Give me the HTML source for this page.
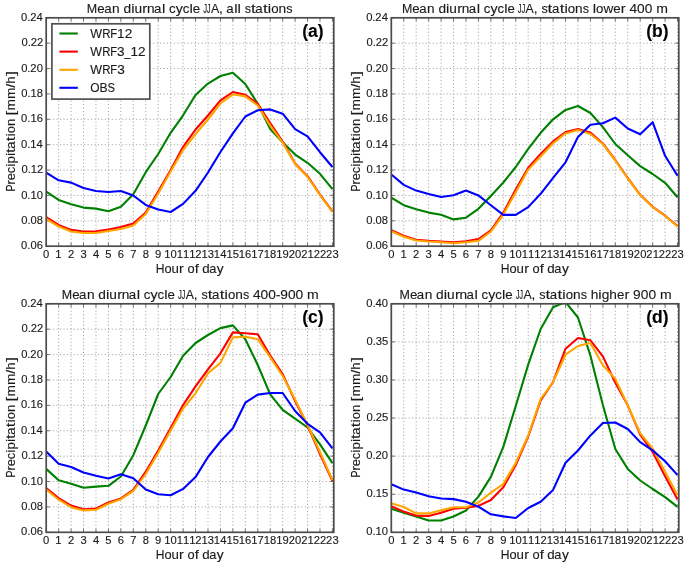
<!DOCTYPE html>
<html><head><meta charset="utf-8"><title>Mean diurnal cycle JJA</title>
<style>html,body{margin:0;padding:0;background:#fff;}svg{display:block;will-change:transform;}text{stroke:#1a1a1a;stroke-width:0.12px;}</style>
</head><body>
<svg width="685" height="563" viewBox="0 0 685 563" font-family='"Liberation Sans", sans-serif' fill="#1a1a1a">
<rect width="685" height="563" fill="#fff"/>
<clipPath id="clipa"><rect x="46.2" y="17.8" width="287.6" height="228.4"/></clipPath>
<path d="M58.65 17.8V246.2M71.09 17.8V246.2M83.53 17.8V246.2M95.98 17.8V246.2M108.43 17.8V246.2M120.87 17.8V246.2M133.31 17.8V246.2M145.76 17.8V246.2M158.2 17.8V246.2M170.65 17.8V246.2M183.1 17.8V246.2M195.54 17.8V246.2M207.99 17.8V246.2M220.43 17.8V246.2M232.88 17.8V246.2M245.32 17.8V246.2M257.76 17.8V246.2M270.21 17.8V246.2M282.66 17.8V246.2M295.1 17.8V246.2M307.55 17.8V246.2M319.99 17.8V246.2M332.44 17.8V246.2M46.2 220.82H333.8M46.2 195.44H333.8M46.2 170.07H333.8M46.2 144.69H333.8M46.2 119.31H333.8M46.2 93.93H333.8M46.2 68.56H333.8M46.2 43.18H333.8" stroke="#a2a2a2" stroke-width="1" stroke-dasharray="1.1 2.35" fill="none"/>
<path d="M46.2 246.2v-3.5M46.2 17.8v3.5M58.65 246.2v-3.5M58.65 17.8v3.5M71.09 246.2v-3.5M71.09 17.8v3.5M83.53 246.2v-3.5M83.53 17.8v3.5M95.98 246.2v-3.5M95.98 17.8v3.5M108.43 246.2v-3.5M108.43 17.8v3.5M120.87 246.2v-3.5M120.87 17.8v3.5M133.31 246.2v-3.5M133.31 17.8v3.5M145.76 246.2v-3.5M145.76 17.8v3.5M158.2 246.2v-3.5M158.2 17.8v3.5M170.65 246.2v-3.5M170.65 17.8v3.5M183.1 246.2v-3.5M183.1 17.8v3.5M195.54 246.2v-3.5M195.54 17.8v3.5M207.99 246.2v-3.5M207.99 17.8v3.5M220.43 246.2v-3.5M220.43 17.8v3.5M232.88 246.2v-3.5M232.88 17.8v3.5M245.32 246.2v-3.5M245.32 17.8v3.5M257.76 246.2v-3.5M257.76 17.8v3.5M270.21 246.2v-3.5M270.21 17.8v3.5M282.66 246.2v-3.5M282.66 17.8v3.5M295.1 246.2v-3.5M295.1 17.8v3.5M307.55 246.2v-3.5M307.55 17.8v3.5M319.99 246.2v-3.5M319.99 17.8v3.5M332.44 246.2v-3.5M332.44 17.8v3.5M46.2 246.2h3.5M333.8 246.2h-3.5M46.2 220.82h3.5M333.8 220.82h-3.5M46.2 195.44h3.5M333.8 195.44h-3.5M46.2 170.07h3.5M333.8 170.07h-3.5M46.2 144.69h3.5M333.8 144.69h-3.5M46.2 119.31h3.5M333.8 119.31h-3.5M46.2 93.93h3.5M333.8 93.93h-3.5M46.2 68.56h3.5M333.8 68.56h-3.5M46.2 43.18h3.5M333.8 43.18h-3.5M46.2 17.8h3.5M333.8 17.8h-3.5" stroke="#707070" stroke-width="1" fill="none"/>
<g clip-path="url(#clipa)"><polyline points="46.2,191.6 58.65,199.9 71.09,204.3 83.53,207.6 95.98,208.6 108.43,211.2 120.87,206.8 133.31,194.3 145.76,172.2 158.2,154 170.65,132.8 183.1,115.3 195.54,95 207.99,83.6 220.43,76 232.88,72.8 245.32,84 257.76,103.9 270.21,129 282.66,142.3 295.1,154.6 307.55,162.8 319.99,173.8 332.44,189.1" stroke="#008000" stroke-width="2.1" fill="none" stroke-linejoin="round"/><polyline points="46.2,217.2 58.65,225 71.09,229.9 83.53,231.5 95.98,231.3 108.43,229.6 120.87,227.1 133.31,223.6 145.76,212.5 158.2,191.6 170.65,170 183.1,146.8 195.54,129.5 207.99,115.5 220.43,100.3 232.88,92 245.32,94.8 257.76,103.9 270.21,123 282.66,141.5 295.1,163.5 307.55,176.2 319.99,194.6 332.44,211.4" stroke="#ff0000" stroke-width="2.1" fill="none" stroke-linejoin="round"/><polyline points="46.2,219 58.65,226.5 71.09,231.5 83.53,233 95.98,233 108.43,231 120.87,229 133.31,225.5 145.76,214 158.2,193.5 170.65,171.5 183.1,150 195.54,134 207.99,119.5 220.43,103.5 232.88,94.3 245.32,96.4 257.76,105.5 270.21,125.6 282.66,142.6 295.1,164 307.55,177 319.99,195 332.44,212" stroke="#ffa500" stroke-width="2.1" fill="none" stroke-linejoin="round"/><polyline points="46.2,172.7 58.65,180.3 71.09,182.6 83.53,188 95.98,191 108.43,192 120.87,191 133.31,195.5 145.76,204.9 158.2,209.5 170.65,212 183.1,203.9 195.54,190.8 207.99,172.5 220.43,152 232.88,133.3 245.32,116.5 257.76,110.3 270.21,109.4 282.66,113.7 295.1,129.2 307.55,136.4 319.99,152.2 332.44,167" stroke="#0000ff" stroke-width="2.1" fill="none" stroke-linejoin="round"/></g>
<rect x="46.2" y="17.8" width="287.6" height="228.4" fill="none" stroke="#4c4c4c" stroke-width="1.7"/>
<g font-size="12.77"><text transform="translate(86.82 12.95) scale(0.977 1)">M</text><text transform="translate(97.24 12.95) scale(1.044 1)">e</text><text transform="translate(104.16 12.95) scale(1.040 1)">a</text><text transform="translate(112.04 12.95) scale(1.075 1)">n</text><text transform="translate(123.42 12.95) scale(1.077 1)">d</text><text transform="translate(131.14 12.95) scale(1.180 1)">i</text><text transform="translate(134.45 12.95) scale(1.075 1)">u</text><text transform="translate(142.29 12.95) scale(1.165 1)">r</text><text transform="translate(146.88 12.95) scale(1.075 1)">n</text><text transform="translate(154.03 12.95) scale(1.040 1)">a</text><text transform="translate(161.88 12.95) scale(1.180 1)">l</text><text transform="translate(168.91 12.95) scale(1.038 1)">c</text><text transform="translate(175.68 12.95) scale(1.117 1)">y</text><text transform="translate(182.66 12.95) scale(1.038 1)">c</text><text transform="translate(189.44 12.95) scale(1.180 1)">l</text><text transform="translate(192.81 12.95) scale(1.044 1)">e</text><text transform="translate(203.21 12.95) scale(0.600 1)">J</text><text transform="translate(206.77 12.95) scale(0.600 1)">J</text><text transform="translate(210.92 12.95) scale(0.968 1)">A</text><text transform="translate(219.05 12.95) scale(1.080 1)">,</text><text transform="translate(226.36 12.95) scale(1.040 1)">a</text><text transform="translate(234.21 12.95) scale(1.180 1)">l</text><text transform="translate(237.56 12.95) scale(1.180 1)">l</text><text transform="translate(244.83 12.95) scale(0.983 1)">s</text><text transform="translate(250.97 12.95) scale(1.332 1)">t</text><text transform="translate(255.28 12.95) scale(1.040 1)">a</text><text transform="translate(263.08 12.95) scale(1.332 1)">t</text><text transform="translate(267.86 12.95) scale(1.180 1)">i</text><text transform="translate(271.2 12.95) scale(1.038 1)">o</text><text transform="translate(278.6 12.95) scale(1.075 1)">n</text><text transform="translate(286.29 12.95) scale(0.983 1)">s</text></g>
<g font-size="10.38"><text transform="translate(21.09 249.3) scale(1.080 1)">0</text><text transform="translate(27.33 249.3) scale(1.080 1)">.</text><text transform="translate(30.44 249.3) scale(1.080 1)">0</text><text transform="translate(36.68 249.3) scale(1.080 1)">6</text></g>
<g font-size="10.38"><text transform="translate(21.15 223.92) scale(1.080 1)">0</text><text transform="translate(27.38 223.92) scale(1.080 1)">.</text><text transform="translate(30.5 223.92) scale(1.080 1)">0</text><text transform="translate(36.73 223.92) scale(1.080 1)">8</text></g>
<g font-size="10.38"><text transform="translate(21.13 198.54) scale(1.080 1)">0</text><text transform="translate(27.36 198.54) scale(1.080 1)">.</text><text transform="translate(30.41 198.54) scale(1.080 1)">1</text><text transform="translate(36.71 198.54) scale(1.080 1)">0</text></g>
<g font-size="10.38"><text transform="translate(21.46 173.17) scale(1.080 1)">0</text><text transform="translate(27.69 173.17) scale(1.080 1)">.</text><text transform="translate(30.74 173.17) scale(1.080 1)">1</text><text transform="translate(36.91 173.17) scale(1.080 1)">2</text></g>
<g font-size="10.38"><text transform="translate(21.03 147.79) scale(1.080 1)">0</text><text transform="translate(27.26 147.79) scale(1.080 1)">.</text><text transform="translate(30.31 147.79) scale(1.080 1)">1</text><text transform="translate(36.61 147.79) scale(1.080 1)">4</text></g>
<g font-size="10.38"><text transform="translate(21.09 122.41) scale(1.080 1)">0</text><text transform="translate(27.33 122.41) scale(1.080 1)">.</text><text transform="translate(30.38 122.41) scale(1.080 1)">1</text><text transform="translate(36.68 122.41) scale(1.080 1)">6</text></g>
<g font-size="10.38"><text transform="translate(21.15 97.03) scale(1.080 1)">0</text><text transform="translate(27.38 97.03) scale(1.080 1)">.</text><text transform="translate(30.43 97.03) scale(1.080 1)">1</text><text transform="translate(36.73 97.03) scale(1.080 1)">8</text></g>
<g font-size="10.38"><text transform="translate(21.13 71.66) scale(1.080 1)">0</text><text transform="translate(27.36 71.66) scale(1.080 1)">.</text><text transform="translate(30.35 71.66) scale(1.080 1)">2</text><text transform="translate(36.71 71.66) scale(1.080 1)">0</text></g>
<g font-size="10.38"><text transform="translate(21.46 46.28) scale(1.080 1)">0</text><text transform="translate(27.69 46.28) scale(1.080 1)">.</text><text transform="translate(30.68 46.28) scale(1.080 1)">2</text><text transform="translate(36.91 46.28) scale(1.080 1)">2</text></g>
<g font-size="10.38"><text transform="translate(21.03 20.9) scale(1.080 1)">0</text><text transform="translate(27.26 20.9) scale(1.080 1)">.</text><text transform="translate(30.25 20.9) scale(1.080 1)">2</text><text transform="translate(36.61 20.9) scale(1.080 1)">4</text></g>
<g font-size="10.38"><text transform="translate(43.08 257.9) scale(1.080 1)">0</text></g>
<g font-size="10.38"><text transform="translate(55.37 257.9) scale(1.080 1)">1</text></g>
<g font-size="10.38"><text transform="translate(67.97 257.9) scale(1.080 1)">2</text></g>
<g font-size="10.38"><text transform="translate(80.45 257.9) scale(1.080 1)">3</text></g>
<g font-size="10.38"><text transform="translate(92.9 257.9) scale(1.080 1)">4</text></g>
<g font-size="10.38"><text transform="translate(105.32 257.9) scale(1.080 1)">5</text></g>
<g font-size="10.38"><text transform="translate(117.71 257.9) scale(1.080 1)">6</text></g>
<g font-size="10.38"><text transform="translate(130.19 257.9) scale(1.080 1)">7</text></g>
<g font-size="10.38"><text transform="translate(142.64 257.9) scale(1.080 1)">8</text></g>
<g font-size="10.38"><text transform="translate(155.09 257.9) scale(1.080 1)">9</text></g>
<g font-size="10.38"><text transform="translate(164.13 257.9) scale(1.080 1)">1</text><text transform="translate(170.43 257.9) scale(1.080 1)">0</text></g>
<g font-size="10.38"><text transform="translate(176.71 257.9) scale(1.080 1)">1</text><text transform="translate(182.94 257.9) scale(1.080 1)">1</text></g>
<g font-size="10.38"><text transform="translate(189.19 257.9) scale(1.080 1)">1</text><text transform="translate(195.36 257.9) scale(1.080 1)">2</text></g>
<g font-size="10.38"><text transform="translate(201.54 257.9) scale(1.080 1)">1</text><text transform="translate(207.85 257.9) scale(1.080 1)">3</text></g>
<g font-size="10.38"><text transform="translate(213.86 257.9) scale(1.080 1)">1</text><text transform="translate(220.17 257.9) scale(1.080 1)">4</text></g>
<g font-size="10.38"><text transform="translate(226.46 257.9) scale(1.080 1)">1</text><text transform="translate(232.73 257.9) scale(1.080 1)">5</text></g>
<g font-size="10.38"><text transform="translate(238.79 257.9) scale(1.080 1)">1</text><text transform="translate(245.09 257.9) scale(1.080 1)">6</text></g>
<g font-size="10.38"><text transform="translate(251.34 257.9) scale(1.080 1)">1</text><text transform="translate(257.62 257.9) scale(1.080 1)">7</text></g>
<g font-size="10.38"><text transform="translate(263.7 257.9) scale(1.080 1)">1</text><text transform="translate(270 257.9) scale(1.080 1)">8</text></g>
<g font-size="10.38"><text transform="translate(276.16 257.9) scale(1.080 1)">1</text><text transform="translate(282.43 257.9) scale(1.080 1)">9</text></g>
<g font-size="10.38"><text transform="translate(288.7 257.9) scale(1.080 1)">2</text><text transform="translate(295.06 257.9) scale(1.080 1)">0</text></g>
<g font-size="10.38"><text transform="translate(301.27 257.9) scale(1.080 1)">2</text><text transform="translate(307.57 257.9) scale(1.080 1)">1</text></g>
<g font-size="10.38"><text transform="translate(313.75 257.9) scale(1.080 1)">2</text><text transform="translate(319.99 257.9) scale(1.080 1)">2</text></g>
<g font-size="10.38"><text transform="translate(326.1 257.9) scale(1.080 1)">2</text><text transform="translate(332.48 257.9) scale(1.080 1)">3</text></g>
<g font-size="12.34"><text transform="translate(155.65 272.5) scale(0.983 1)">H</text><text transform="translate(164.42 272.5) scale(1.038 1)">o</text><text transform="translate(171.51 272.5) scale(1.075 1)">u</text><text transform="translate(179.09 272.5) scale(1.165 1)">r</text><text transform="translate(187.41 272.5) scale(1.038 1)">o</text><text transform="translate(194.66 272.5) scale(1.196 1)">f</text><text transform="translate(202.27 272.5) scale(1.077 1)">d</text><text transform="translate(209.27 272.5) scale(1.040 1)">a</text><text transform="translate(216.85 272.5) scale(1.117 1)">y</text></g>
<g transform="translate(15.05 131.7) rotate(-90)"><g font-size="12.38"><text transform="translate(-59.83 0) scale(0.853 1)">P</text><text transform="translate(-53.04 0) scale(1.165 1)">r</text><text transform="translate(-48.64 0) scale(1.044 1)">e</text><text transform="translate(-41.62 0) scale(1.038 1)">c</text><text transform="translate(-35.04 0) scale(1.180 1)">i</text><text transform="translate(-31.74 0) scale(1.077 1)">p</text><text transform="translate(-24.38 0) scale(1.180 1)">i</text><text transform="translate(-21.19 0) scale(1.332 1)">t</text><text transform="translate(-17.02 0) scale(1.040 1)">a</text><text transform="translate(-9.45 0) scale(1.332 1)">t</text><text transform="translate(-4.82 0) scale(1.180 1)">i</text><text transform="translate(-1.57 0) scale(1.038 1)">o</text><text transform="translate(5.59 0) scale(1.075 1)">n</text><text transform="translate(16.1 0) scale(1.325 1)">[</text><text transform="translate(21.28 0) scale(1.104 1)">m</text><text transform="translate(32.66 0) scale(1.104 1)">m</text><text transform="translate(44.01 0) scale(1.144 1)">/</text><text transform="translate(47.95 0) scale(1.075 1)">h</text><text transform="translate(55.93 0) scale(1.325 1)">]</text></g></g>
<text x="323.6" y="37.4" font-size="17.5" font-weight="bold" text-anchor="end" fill="#000" style="stroke-width:0.1px">(a)</text>
<clipPath id="clipb"><rect x="391.3" y="17.8" width="287.5" height="228.4"/></clipPath>
<path d="M403.75 17.8V246.2M416.19 17.8V246.2M428.63 17.8V246.2M441.08 17.8V246.2M453.53 17.8V246.2M465.97 17.8V246.2M478.42 17.8V246.2M490.86 17.8V246.2M503.31 17.8V246.2M515.75 17.8V246.2M528.2 17.8V246.2M540.64 17.8V246.2M553.09 17.8V246.2M565.53 17.8V246.2M577.98 17.8V246.2M590.42 17.8V246.2M602.87 17.8V246.2M615.31 17.8V246.2M627.75 17.8V246.2M640.2 17.8V246.2M652.64 17.8V246.2M665.09 17.8V246.2M677.54 17.8V246.2M391.3 220.82H678.8M391.3 195.44H678.8M391.3 170.07H678.8M391.3 144.69H678.8M391.3 119.31H678.8M391.3 93.93H678.8M391.3 68.56H678.8M391.3 43.18H678.8" stroke="#a2a2a2" stroke-width="1" stroke-dasharray="1.1 2.35" fill="none"/>
<path d="M391.3 246.2v-3.5M391.3 17.8v3.5M403.75 246.2v-3.5M403.75 17.8v3.5M416.19 246.2v-3.5M416.19 17.8v3.5M428.63 246.2v-3.5M428.63 17.8v3.5M441.08 246.2v-3.5M441.08 17.8v3.5M453.53 246.2v-3.5M453.53 17.8v3.5M465.97 246.2v-3.5M465.97 17.8v3.5M478.42 246.2v-3.5M478.42 17.8v3.5M490.86 246.2v-3.5M490.86 17.8v3.5M503.31 246.2v-3.5M503.31 17.8v3.5M515.75 246.2v-3.5M515.75 17.8v3.5M528.2 246.2v-3.5M528.2 17.8v3.5M540.64 246.2v-3.5M540.64 17.8v3.5M553.09 246.2v-3.5M553.09 17.8v3.5M565.53 246.2v-3.5M565.53 17.8v3.5M577.98 246.2v-3.5M577.98 17.8v3.5M590.42 246.2v-3.5M590.42 17.8v3.5M602.87 246.2v-3.5M602.87 17.8v3.5M615.31 246.2v-3.5M615.31 17.8v3.5M627.75 246.2v-3.5M627.75 17.8v3.5M640.2 246.2v-3.5M640.2 17.8v3.5M652.64 246.2v-3.5M652.64 17.8v3.5M665.09 246.2v-3.5M665.09 17.8v3.5M677.54 246.2v-3.5M677.54 17.8v3.5M391.3 246.2h3.5M678.8 246.2h-3.5M391.3 220.82h3.5M678.8 220.82h-3.5M391.3 195.44h3.5M678.8 195.44h-3.5M391.3 170.07h3.5M678.8 170.07h-3.5M391.3 144.69h3.5M678.8 144.69h-3.5M391.3 119.31h3.5M678.8 119.31h-3.5M391.3 93.93h3.5M678.8 93.93h-3.5M391.3 68.56h3.5M678.8 68.56h-3.5M391.3 43.18h3.5M678.8 43.18h-3.5M391.3 17.8h3.5M678.8 17.8h-3.5" stroke="#707070" stroke-width="1" fill="none"/>
<g clip-path="url(#clipb)"><polyline points="391.3,197.7 403.75,205.2 416.19,209.3 428.63,212.6 441.08,214.8 453.53,219.4 465.97,217.7 478.42,208.8 490.86,195.9 503.31,182.5 515.75,167 528.2,148.8 540.64,132.8 553.09,119.3 565.53,109.9 577.98,106 590.42,113 602.87,127.1 615.31,144 627.75,155.3 640.2,166.1 652.64,174 665.09,182.8 677.54,197.2" stroke="#008000" stroke-width="2.1" fill="none" stroke-linejoin="round"/><polyline points="391.3,230.1 403.75,235.7 416.19,239.7 428.63,240.8 441.08,241.5 453.53,242.2 465.97,241.4 478.42,239 490.86,230.4 503.31,212.7 515.75,189.4 528.2,167.7 540.64,154 553.09,141.4 565.53,132 577.98,129.1 590.42,132.6 602.87,143.5 615.31,160 627.75,178 640.2,194.8 652.64,206.8 665.09,215.7 677.54,226" stroke="#ff0000" stroke-width="2.1" fill="none" stroke-linejoin="round"/><polyline points="391.3,231.3 403.75,236.8 416.19,240.5 428.63,241.5 441.08,242.2 453.53,243.2 465.97,242.2 478.42,240.8 490.86,231.7 503.31,214.6 515.75,192.2 528.2,169.6 540.64,156.5 553.09,143.2 565.53,133.4 577.98,130 590.42,134 602.87,144 615.31,160.5 627.75,178.5 640.2,195 652.64,207 665.09,216 677.54,226.5" stroke="#ffa500" stroke-width="2.1" fill="none" stroke-linejoin="round"/><polyline points="391.3,174.5 403.75,184.9 416.19,190.6 428.63,194.1 441.08,197 453.53,195.3 465.97,190.5 478.42,195.4 490.86,205.2 503.31,214.9 515.75,214.9 528.2,207.1 540.64,193.8 553.09,177.9 565.53,162.3 577.98,136.9 590.42,124.8 602.87,123.2 615.31,117.6 627.75,128.5 640.2,134.2 652.64,122.2 665.09,155.8 677.54,175.7" stroke="#0000ff" stroke-width="2.1" fill="none" stroke-linejoin="round"/></g>
<rect x="391.3" y="17.8" width="287.5" height="228.4" fill="none" stroke="#4c4c4c" stroke-width="1.7"/>
<g font-size="12.72"><text transform="translate(401.92 12.95) scale(0.977 1)">M</text><text transform="translate(412.3 12.95) scale(1.044 1)">e</text><text transform="translate(419.2 12.95) scale(1.040 1)">a</text><text transform="translate(427.04 12.95) scale(1.075 1)">n</text><text transform="translate(438.38 12.95) scale(1.077 1)">d</text><text transform="translate(446.07 12.95) scale(1.180 1)">i</text><text transform="translate(449.37 12.95) scale(1.075 1)">u</text><text transform="translate(457.18 12.95) scale(1.165 1)">r</text><text transform="translate(461.75 12.95) scale(1.075 1)">n</text><text transform="translate(468.87 12.95) scale(1.040 1)">a</text><text transform="translate(476.69 12.95) scale(1.180 1)">l</text><text transform="translate(483.69 12.95) scale(1.038 1)">c</text><text transform="translate(490.44 12.95) scale(1.117 1)">y</text><text transform="translate(497.4 12.95) scale(1.038 1)">c</text><text transform="translate(504.14 12.95) scale(1.180 1)">l</text><text transform="translate(507.5 12.95) scale(1.044 1)">e</text><text transform="translate(517.87 12.95) scale(0.600 1)">J</text><text transform="translate(521.41 12.95) scale(0.600 1)">J</text><text transform="translate(525.55 12.95) scale(0.968 1)">A</text><text transform="translate(533.64 12.95) scale(1.080 1)">,</text><text transform="translate(541.48 12.95) scale(0.983 1)">s</text><text transform="translate(547.6 12.95) scale(1.332 1)">t</text><text transform="translate(551.89 12.95) scale(1.040 1)">a</text><text transform="translate(559.66 12.95) scale(1.332 1)">t</text><text transform="translate(564.42 12.95) scale(1.180 1)">i</text><text transform="translate(567.75 12.95) scale(1.038 1)">o</text><text transform="translate(575.12 12.95) scale(1.075 1)">n</text><text transform="translate(582.78 12.95) scale(0.983 1)">s</text><text transform="translate(592.77 12.95) scale(1.180 1)">l</text><text transform="translate(596.11 12.95) scale(1.038 1)">o</text><text transform="translate(603.44 12.95) scale(1.069 1)">w</text><text transform="translate(613.29 12.95) scale(1.044 1)">e</text><text transform="translate(620.83 12.95) scale(1.165 1)">r</text><text transform="translate(629.4 12.95) scale(1.080 1)">4</text><text transform="translate(637.03 12.95) scale(1.080 1)">0</text><text transform="translate(644.67 12.95) scale(1.080 1)">0</text><text transform="translate(656.16 12.95) scale(1.104 1)">m</text></g>
<g font-size="10.38"><text transform="translate(366.19 249.3) scale(1.080 1)">0</text><text transform="translate(372.43 249.3) scale(1.080 1)">.</text><text transform="translate(375.54 249.3) scale(1.080 1)">0</text><text transform="translate(381.78 249.3) scale(1.080 1)">6</text></g>
<g font-size="10.38"><text transform="translate(366.25 223.92) scale(1.080 1)">0</text><text transform="translate(372.48 223.92) scale(1.080 1)">.</text><text transform="translate(375.6 223.92) scale(1.080 1)">0</text><text transform="translate(381.83 223.92) scale(1.080 1)">8</text></g>
<g font-size="10.38"><text transform="translate(366.23 198.54) scale(1.080 1)">0</text><text transform="translate(372.46 198.54) scale(1.080 1)">.</text><text transform="translate(375.51 198.54) scale(1.080 1)">1</text><text transform="translate(381.81 198.54) scale(1.080 1)">0</text></g>
<g font-size="10.38"><text transform="translate(366.56 173.17) scale(1.080 1)">0</text><text transform="translate(372.79 173.17) scale(1.080 1)">.</text><text transform="translate(375.84 173.17) scale(1.080 1)">1</text><text transform="translate(382.01 173.17) scale(1.080 1)">2</text></g>
<g font-size="10.38"><text transform="translate(366.13 147.79) scale(1.080 1)">0</text><text transform="translate(372.36 147.79) scale(1.080 1)">.</text><text transform="translate(375.41 147.79) scale(1.080 1)">1</text><text transform="translate(381.71 147.79) scale(1.080 1)">4</text></g>
<g font-size="10.38"><text transform="translate(366.19 122.41) scale(1.080 1)">0</text><text transform="translate(372.43 122.41) scale(1.080 1)">.</text><text transform="translate(375.48 122.41) scale(1.080 1)">1</text><text transform="translate(381.78 122.41) scale(1.080 1)">6</text></g>
<g font-size="10.38"><text transform="translate(366.25 97.03) scale(1.080 1)">0</text><text transform="translate(372.48 97.03) scale(1.080 1)">.</text><text transform="translate(375.53 97.03) scale(1.080 1)">1</text><text transform="translate(381.83 97.03) scale(1.080 1)">8</text></g>
<g font-size="10.38"><text transform="translate(366.23 71.66) scale(1.080 1)">0</text><text transform="translate(372.46 71.66) scale(1.080 1)">.</text><text transform="translate(375.45 71.66) scale(1.080 1)">2</text><text transform="translate(381.81 71.66) scale(1.080 1)">0</text></g>
<g font-size="10.38"><text transform="translate(366.56 46.28) scale(1.080 1)">0</text><text transform="translate(372.79 46.28) scale(1.080 1)">.</text><text transform="translate(375.78 46.28) scale(1.080 1)">2</text><text transform="translate(382.01 46.28) scale(1.080 1)">2</text></g>
<g font-size="10.38"><text transform="translate(366.13 20.9) scale(1.080 1)">0</text><text transform="translate(372.36 20.9) scale(1.080 1)">.</text><text transform="translate(375.35 20.9) scale(1.080 1)">2</text><text transform="translate(381.71 20.9) scale(1.080 1)">4</text></g>
<g font-size="10.38"><text transform="translate(388.18 257.9) scale(1.080 1)">0</text></g>
<g font-size="10.38"><text transform="translate(400.47 257.9) scale(1.080 1)">1</text></g>
<g font-size="10.38"><text transform="translate(413.07 257.9) scale(1.080 1)">2</text></g>
<g font-size="10.38"><text transform="translate(425.55 257.9) scale(1.080 1)">3</text></g>
<g font-size="10.38"><text transform="translate(438 257.9) scale(1.080 1)">4</text></g>
<g font-size="10.38"><text transform="translate(450.42 257.9) scale(1.080 1)">5</text></g>
<g font-size="10.38"><text transform="translate(462.81 257.9) scale(1.080 1)">6</text></g>
<g font-size="10.38"><text transform="translate(475.29 257.9) scale(1.080 1)">7</text></g>
<g font-size="10.38"><text transform="translate(487.74 257.9) scale(1.080 1)">8</text></g>
<g font-size="10.38"><text transform="translate(500.19 257.9) scale(1.080 1)">9</text></g>
<g font-size="10.38"><text transform="translate(509.23 257.9) scale(1.080 1)">1</text><text transform="translate(515.53 257.9) scale(1.080 1)">0</text></g>
<g font-size="10.38"><text transform="translate(521.81 257.9) scale(1.080 1)">1</text><text transform="translate(528.04 257.9) scale(1.080 1)">1</text></g>
<g font-size="10.38"><text transform="translate(534.29 257.9) scale(1.080 1)">1</text><text transform="translate(540.46 257.9) scale(1.080 1)">2</text></g>
<g font-size="10.38"><text transform="translate(546.64 257.9) scale(1.080 1)">1</text><text transform="translate(552.95 257.9) scale(1.080 1)">3</text></g>
<g font-size="10.38"><text transform="translate(558.96 257.9) scale(1.080 1)">1</text><text transform="translate(565.27 257.9) scale(1.080 1)">4</text></g>
<g font-size="10.38"><text transform="translate(571.56 257.9) scale(1.080 1)">1</text><text transform="translate(577.83 257.9) scale(1.080 1)">5</text></g>
<g font-size="10.38"><text transform="translate(583.89 257.9) scale(1.080 1)">1</text><text transform="translate(590.19 257.9) scale(1.080 1)">6</text></g>
<g font-size="10.38"><text transform="translate(596.44 257.9) scale(1.080 1)">1</text><text transform="translate(602.72 257.9) scale(1.080 1)">7</text></g>
<g font-size="10.38"><text transform="translate(608.8 257.9) scale(1.080 1)">1</text><text transform="translate(615.1 257.9) scale(1.080 1)">8</text></g>
<g font-size="10.38"><text transform="translate(621.26 257.9) scale(1.080 1)">1</text><text transform="translate(627.53 257.9) scale(1.080 1)">9</text></g>
<g font-size="10.38"><text transform="translate(633.8 257.9) scale(1.080 1)">2</text><text transform="translate(640.16 257.9) scale(1.080 1)">0</text></g>
<g font-size="10.38"><text transform="translate(646.37 257.9) scale(1.080 1)">2</text><text transform="translate(652.67 257.9) scale(1.080 1)">1</text></g>
<g font-size="10.38"><text transform="translate(658.85 257.9) scale(1.080 1)">2</text><text transform="translate(665.09 257.9) scale(1.080 1)">2</text></g>
<g font-size="10.38"><text transform="translate(671.2 257.9) scale(1.080 1)">2</text><text transform="translate(677.58 257.9) scale(1.080 1)">3</text></g>
<g font-size="12.34"><text transform="translate(500.7 272.5) scale(0.983 1)">H</text><text transform="translate(509.47 272.5) scale(1.038 1)">o</text><text transform="translate(516.56 272.5) scale(1.075 1)">u</text><text transform="translate(524.14 272.5) scale(1.165 1)">r</text><text transform="translate(532.46 272.5) scale(1.038 1)">o</text><text transform="translate(539.71 272.5) scale(1.196 1)">f</text><text transform="translate(547.32 272.5) scale(1.077 1)">d</text><text transform="translate(554.32 272.5) scale(1.040 1)">a</text><text transform="translate(561.9 272.5) scale(1.117 1)">y</text></g>
<g transform="translate(360.15 131.7) rotate(-90)"><g font-size="12.38"><text transform="translate(-59.83 0) scale(0.853 1)">P</text><text transform="translate(-53.04 0) scale(1.165 1)">r</text><text transform="translate(-48.64 0) scale(1.044 1)">e</text><text transform="translate(-41.62 0) scale(1.038 1)">c</text><text transform="translate(-35.04 0) scale(1.180 1)">i</text><text transform="translate(-31.74 0) scale(1.077 1)">p</text><text transform="translate(-24.38 0) scale(1.180 1)">i</text><text transform="translate(-21.19 0) scale(1.332 1)">t</text><text transform="translate(-17.02 0) scale(1.040 1)">a</text><text transform="translate(-9.45 0) scale(1.332 1)">t</text><text transform="translate(-4.82 0) scale(1.180 1)">i</text><text transform="translate(-1.57 0) scale(1.038 1)">o</text><text transform="translate(5.59 0) scale(1.075 1)">n</text><text transform="translate(16.1 0) scale(1.325 1)">[</text><text transform="translate(21.28 0) scale(1.104 1)">m</text><text transform="translate(32.66 0) scale(1.104 1)">m</text><text transform="translate(44.01 0) scale(1.144 1)">/</text><text transform="translate(47.95 0) scale(1.075 1)">h</text><text transform="translate(55.93 0) scale(1.325 1)">]</text></g></g>
<text x="668.6" y="37.4" font-size="17.5" font-weight="bold" text-anchor="end" fill="#000" style="stroke-width:0.1px">(b)</text>
<clipPath id="clipc"><rect x="46.2" y="303.8" width="287.6" height="228.5"/></clipPath>
<path d="M58.65 303.8V532.3M71.09 303.8V532.3M83.53 303.8V532.3M95.98 303.8V532.3M108.43 303.8V532.3M120.87 303.8V532.3M133.31 303.8V532.3M145.76 303.8V532.3M158.2 303.8V532.3M170.65 303.8V532.3M183.1 303.8V532.3M195.54 303.8V532.3M207.99 303.8V532.3M220.43 303.8V532.3M232.88 303.8V532.3M245.32 303.8V532.3M257.76 303.8V532.3M270.21 303.8V532.3M282.66 303.8V532.3M295.1 303.8V532.3M307.55 303.8V532.3M319.99 303.8V532.3M332.44 303.8V532.3M46.2 506.91H333.8M46.2 481.52H333.8M46.2 456.13H333.8M46.2 430.74H333.8M46.2 405.36H333.8M46.2 379.97H333.8M46.2 354.58H333.8M46.2 329.19H333.8" stroke="#a2a2a2" stroke-width="1" stroke-dasharray="1.1 2.35" fill="none"/>
<path d="M46.2 532.3v-3.5M46.2 303.8v3.5M58.65 532.3v-3.5M58.65 303.8v3.5M71.09 532.3v-3.5M71.09 303.8v3.5M83.53 532.3v-3.5M83.53 303.8v3.5M95.98 532.3v-3.5M95.98 303.8v3.5M108.43 532.3v-3.5M108.43 303.8v3.5M120.87 532.3v-3.5M120.87 303.8v3.5M133.31 532.3v-3.5M133.31 303.8v3.5M145.76 532.3v-3.5M145.76 303.8v3.5M158.2 532.3v-3.5M158.2 303.8v3.5M170.65 532.3v-3.5M170.65 303.8v3.5M183.1 532.3v-3.5M183.1 303.8v3.5M195.54 532.3v-3.5M195.54 303.8v3.5M207.99 532.3v-3.5M207.99 303.8v3.5M220.43 532.3v-3.5M220.43 303.8v3.5M232.88 532.3v-3.5M232.88 303.8v3.5M245.32 532.3v-3.5M245.32 303.8v3.5M257.76 532.3v-3.5M257.76 303.8v3.5M270.21 532.3v-3.5M270.21 303.8v3.5M282.66 532.3v-3.5M282.66 303.8v3.5M295.1 532.3v-3.5M295.1 303.8v3.5M307.55 532.3v-3.5M307.55 303.8v3.5M319.99 532.3v-3.5M319.99 303.8v3.5M332.44 532.3v-3.5M332.44 303.8v3.5M46.2 532.3h3.5M333.8 532.3h-3.5M46.2 506.91h3.5M333.8 506.91h-3.5M46.2 481.52h3.5M333.8 481.52h-3.5M46.2 456.13h3.5M333.8 456.13h-3.5M46.2 430.74h3.5M333.8 430.74h-3.5M46.2 405.36h3.5M333.8 405.36h-3.5M46.2 379.97h3.5M333.8 379.97h-3.5M46.2 354.58h3.5M333.8 354.58h-3.5M46.2 329.19h3.5M333.8 329.19h-3.5M46.2 303.8h3.5M333.8 303.8h-3.5" stroke="#707070" stroke-width="1" fill="none"/>
<g clip-path="url(#clipc)"><polyline points="46.2,468.9 58.65,480.2 71.09,483.7 83.53,487.7 95.98,486.6 108.43,485.8 120.87,476.5 133.31,455.2 145.76,425.5 158.2,394 170.65,377 183.1,355.7 195.54,343 207.99,335 220.43,328.1 232.88,325.4 245.32,339.3 257.76,365 270.21,394.3 282.66,409.8 295.1,418.7 307.55,427.5 319.99,444.3 332.44,463.1" stroke="#008000" stroke-width="2.1" fill="none" stroke-linejoin="round"/><polyline points="46.2,488 58.65,498.1 71.09,505.6 83.53,509.3 95.98,508.5 108.43,502.4 120.87,498.4 133.31,489.9 145.76,471.7 158.2,450.5 170.65,428 183.1,405 195.54,386.3 207.99,369.3 220.43,353.3 232.88,332.4 245.32,333.3 257.76,334.2 270.21,355.5 282.66,374.2 295.1,401 307.55,425.5 319.99,454 332.44,481" stroke="#ff0000" stroke-width="2.1" fill="none" stroke-linejoin="round"/><polyline points="46.2,489.6 58.65,499.7 71.09,507.2 83.53,510.4 95.98,509.8 108.43,503.7 120.87,499.2 133.31,491 145.76,474 158.2,452.7 170.65,430.6 183.1,408.5 195.54,393.3 207.99,373.3 220.43,362.9 232.88,337.4 245.32,336.8 257.76,339.2 270.21,357.3 282.66,376 295.1,399.5 307.55,425 319.99,452 332.44,480" stroke="#ffa500" stroke-width="2.1" fill="none" stroke-linejoin="round"/><polyline points="46.2,451.5 58.65,463.8 71.09,467 83.53,472.5 95.98,475.7 108.43,478.5 120.87,474.2 133.31,478.2 145.76,489.5 158.2,494.2 170.65,495.2 183.1,488.9 195.54,477.1 207.99,457 220.43,441.5 232.88,428.2 245.32,402.7 257.76,394.6 270.21,393 282.66,393 295.1,411 307.55,423.8 319.99,432.4 332.44,448.4" stroke="#0000ff" stroke-width="2.1" fill="none" stroke-linejoin="round"/></g>
<rect x="46.2" y="303.8" width="287.6" height="228.5" fill="none" stroke="#4c4c4c" stroke-width="1.7"/>
<g font-size="12.74"><text transform="translate(61.82 298.95) scale(0.977 1)">M</text><text transform="translate(72.22 298.95) scale(1.044 1)">e</text><text transform="translate(79.12 298.95) scale(1.040 1)">a</text><text transform="translate(86.98 298.95) scale(1.075 1)">n</text><text transform="translate(98.34 298.95) scale(1.077 1)">d</text><text transform="translate(106.03 298.95) scale(1.180 1)">i</text><text transform="translate(109.34 298.95) scale(1.075 1)">u</text><text transform="translate(117.16 298.95) scale(1.165 1)">r</text><text transform="translate(121.74 298.95) scale(1.075 1)">n</text><text transform="translate(128.87 298.95) scale(1.040 1)">a</text><text transform="translate(136.7 298.95) scale(1.180 1)">l</text><text transform="translate(143.72 298.95) scale(1.038 1)">c</text><text transform="translate(150.47 298.95) scale(1.117 1)">y</text><text transform="translate(157.44 298.95) scale(1.038 1)">c</text><text transform="translate(164.2 298.95) scale(1.180 1)">l</text><text transform="translate(167.56 298.95) scale(1.044 1)">e</text><text transform="translate(177.94 298.95) scale(0.600 1)">J</text><text transform="translate(181.49 298.95) scale(0.600 1)">J</text><text transform="translate(185.63 298.95) scale(0.968 1)">A</text><text transform="translate(193.74 298.95) scale(1.080 1)">,</text><text transform="translate(201.59 298.95) scale(0.983 1)">s</text><text transform="translate(207.72 298.95) scale(1.332 1)">t</text><text transform="translate(212.01 298.95) scale(1.040 1)">a</text><text transform="translate(219.8 298.95) scale(1.332 1)">t</text><text transform="translate(224.57 298.95) scale(1.180 1)">i</text><text transform="translate(227.9 298.95) scale(1.038 1)">o</text><text transform="translate(235.28 298.95) scale(1.075 1)">n</text><text transform="translate(242.96 298.95) scale(0.983 1)">s</text><text transform="translate(252.96 298.95) scale(1.080 1)">4</text><text transform="translate(260.61 298.95) scale(1.080 1)">0</text><text transform="translate(268.25 298.95) scale(1.080 1)">0</text><text transform="translate(275.91 298.95) scale(1.023 1)">-</text><text transform="translate(280.2 298.95) scale(1.080 1)">9</text><text transform="translate(287.89 298.95) scale(1.080 1)">0</text><text transform="translate(295.54 298.95) scale(1.080 1)">0</text><text transform="translate(307.04 298.95) scale(1.104 1)">m</text></g>
<g font-size="10.38"><text transform="translate(21.09 535.4) scale(1.080 1)">0</text><text transform="translate(27.33 535.4) scale(1.080 1)">.</text><text transform="translate(30.44 535.4) scale(1.080 1)">0</text><text transform="translate(36.68 535.4) scale(1.080 1)">6</text></g>
<g font-size="10.38"><text transform="translate(21.15 510.01) scale(1.080 1)">0</text><text transform="translate(27.38 510.01) scale(1.080 1)">.</text><text transform="translate(30.5 510.01) scale(1.080 1)">0</text><text transform="translate(36.73 510.01) scale(1.080 1)">8</text></g>
<g font-size="10.38"><text transform="translate(21.13 484.62) scale(1.080 1)">0</text><text transform="translate(27.36 484.62) scale(1.080 1)">.</text><text transform="translate(30.41 484.62) scale(1.080 1)">1</text><text transform="translate(36.71 484.62) scale(1.080 1)">0</text></g>
<g font-size="10.38"><text transform="translate(21.46 459.23) scale(1.080 1)">0</text><text transform="translate(27.69 459.23) scale(1.080 1)">.</text><text transform="translate(30.74 459.23) scale(1.080 1)">1</text><text transform="translate(36.91 459.23) scale(1.080 1)">2</text></g>
<g font-size="10.38"><text transform="translate(21.03 433.84) scale(1.080 1)">0</text><text transform="translate(27.26 433.84) scale(1.080 1)">.</text><text transform="translate(30.31 433.84) scale(1.080 1)">1</text><text transform="translate(36.61 433.84) scale(1.080 1)">4</text></g>
<g font-size="10.38"><text transform="translate(21.09 408.46) scale(1.080 1)">0</text><text transform="translate(27.33 408.46) scale(1.080 1)">.</text><text transform="translate(30.38 408.46) scale(1.080 1)">1</text><text transform="translate(36.68 408.46) scale(1.080 1)">6</text></g>
<g font-size="10.38"><text transform="translate(21.15 383.07) scale(1.080 1)">0</text><text transform="translate(27.38 383.07) scale(1.080 1)">.</text><text transform="translate(30.43 383.07) scale(1.080 1)">1</text><text transform="translate(36.73 383.07) scale(1.080 1)">8</text></g>
<g font-size="10.38"><text transform="translate(21.13 357.68) scale(1.080 1)">0</text><text transform="translate(27.36 357.68) scale(1.080 1)">.</text><text transform="translate(30.35 357.68) scale(1.080 1)">2</text><text transform="translate(36.71 357.68) scale(1.080 1)">0</text></g>
<g font-size="10.38"><text transform="translate(21.46 332.29) scale(1.080 1)">0</text><text transform="translate(27.69 332.29) scale(1.080 1)">.</text><text transform="translate(30.68 332.29) scale(1.080 1)">2</text><text transform="translate(36.91 332.29) scale(1.080 1)">2</text></g>
<g font-size="10.38"><text transform="translate(21.03 306.9) scale(1.080 1)">0</text><text transform="translate(27.26 306.9) scale(1.080 1)">.</text><text transform="translate(30.25 306.9) scale(1.080 1)">2</text><text transform="translate(36.61 306.9) scale(1.080 1)">4</text></g>
<g font-size="10.38"><text transform="translate(43.08 544) scale(1.080 1)">0</text></g>
<g font-size="10.38"><text transform="translate(55.37 544) scale(1.080 1)">1</text></g>
<g font-size="10.38"><text transform="translate(67.97 544) scale(1.080 1)">2</text></g>
<g font-size="10.38"><text transform="translate(80.45 544) scale(1.080 1)">3</text></g>
<g font-size="10.38"><text transform="translate(92.9 544) scale(1.080 1)">4</text></g>
<g font-size="10.38"><text transform="translate(105.32 544) scale(1.080 1)">5</text></g>
<g font-size="10.38"><text transform="translate(117.71 544) scale(1.080 1)">6</text></g>
<g font-size="10.38"><text transform="translate(130.19 544) scale(1.080 1)">7</text></g>
<g font-size="10.38"><text transform="translate(142.64 544) scale(1.080 1)">8</text></g>
<g font-size="10.38"><text transform="translate(155.09 544) scale(1.080 1)">9</text></g>
<g font-size="10.38"><text transform="translate(164.13 544) scale(1.080 1)">1</text><text transform="translate(170.43 544) scale(1.080 1)">0</text></g>
<g font-size="10.38"><text transform="translate(176.71 544) scale(1.080 1)">1</text><text transform="translate(182.94 544) scale(1.080 1)">1</text></g>
<g font-size="10.38"><text transform="translate(189.19 544) scale(1.080 1)">1</text><text transform="translate(195.36 544) scale(1.080 1)">2</text></g>
<g font-size="10.38"><text transform="translate(201.54 544) scale(1.080 1)">1</text><text transform="translate(207.85 544) scale(1.080 1)">3</text></g>
<g font-size="10.38"><text transform="translate(213.86 544) scale(1.080 1)">1</text><text transform="translate(220.17 544) scale(1.080 1)">4</text></g>
<g font-size="10.38"><text transform="translate(226.46 544) scale(1.080 1)">1</text><text transform="translate(232.73 544) scale(1.080 1)">5</text></g>
<g font-size="10.38"><text transform="translate(238.79 544) scale(1.080 1)">1</text><text transform="translate(245.09 544) scale(1.080 1)">6</text></g>
<g font-size="10.38"><text transform="translate(251.34 544) scale(1.080 1)">1</text><text transform="translate(257.62 544) scale(1.080 1)">7</text></g>
<g font-size="10.38"><text transform="translate(263.7 544) scale(1.080 1)">1</text><text transform="translate(270 544) scale(1.080 1)">8</text></g>
<g font-size="10.38"><text transform="translate(276.16 544) scale(1.080 1)">1</text><text transform="translate(282.43 544) scale(1.080 1)">9</text></g>
<g font-size="10.38"><text transform="translate(288.7 544) scale(1.080 1)">2</text><text transform="translate(295.06 544) scale(1.080 1)">0</text></g>
<g font-size="10.38"><text transform="translate(301.27 544) scale(1.080 1)">2</text><text transform="translate(307.57 544) scale(1.080 1)">1</text></g>
<g font-size="10.38"><text transform="translate(313.75 544) scale(1.080 1)">2</text><text transform="translate(319.99 544) scale(1.080 1)">2</text></g>
<g font-size="10.38"><text transform="translate(326.1 544) scale(1.080 1)">2</text><text transform="translate(332.48 544) scale(1.080 1)">3</text></g>
<g font-size="12.34"><text transform="translate(155.65 558.6) scale(0.983 1)">H</text><text transform="translate(164.42 558.6) scale(1.038 1)">o</text><text transform="translate(171.51 558.6) scale(1.075 1)">u</text><text transform="translate(179.09 558.6) scale(1.165 1)">r</text><text transform="translate(187.41 558.6) scale(1.038 1)">o</text><text transform="translate(194.66 558.6) scale(1.196 1)">f</text><text transform="translate(202.27 558.6) scale(1.077 1)">d</text><text transform="translate(209.27 558.6) scale(1.040 1)">a</text><text transform="translate(216.85 558.6) scale(1.117 1)">y</text></g>
<g transform="translate(15.05 417.7) rotate(-90)"><g font-size="12.38"><text transform="translate(-59.83 0) scale(0.853 1)">P</text><text transform="translate(-53.04 0) scale(1.165 1)">r</text><text transform="translate(-48.64 0) scale(1.044 1)">e</text><text transform="translate(-41.62 0) scale(1.038 1)">c</text><text transform="translate(-35.04 0) scale(1.180 1)">i</text><text transform="translate(-31.74 0) scale(1.077 1)">p</text><text transform="translate(-24.38 0) scale(1.180 1)">i</text><text transform="translate(-21.19 0) scale(1.332 1)">t</text><text transform="translate(-17.02 0) scale(1.040 1)">a</text><text transform="translate(-9.45 0) scale(1.332 1)">t</text><text transform="translate(-4.82 0) scale(1.180 1)">i</text><text transform="translate(-1.57 0) scale(1.038 1)">o</text><text transform="translate(5.59 0) scale(1.075 1)">n</text><text transform="translate(16.1 0) scale(1.325 1)">[</text><text transform="translate(21.28 0) scale(1.104 1)">m</text><text transform="translate(32.66 0) scale(1.104 1)">m</text><text transform="translate(44.01 0) scale(1.144 1)">/</text><text transform="translate(47.95 0) scale(1.075 1)">h</text><text transform="translate(55.93 0) scale(1.325 1)">]</text></g></g>
<text x="323.6" y="323.4" font-size="17.5" font-weight="bold" text-anchor="end" fill="#000" style="stroke-width:0.1px">(c)</text>
<clipPath id="clipd"><rect x="391.3" y="303.8" width="287.5" height="228.5"/></clipPath>
<path d="M403.75 303.8V532.3M416.19 303.8V532.3M428.63 303.8V532.3M441.08 303.8V532.3M453.53 303.8V532.3M465.97 303.8V532.3M478.42 303.8V532.3M490.86 303.8V532.3M503.31 303.8V532.3M515.75 303.8V532.3M528.2 303.8V532.3M540.64 303.8V532.3M553.09 303.8V532.3M565.53 303.8V532.3M577.98 303.8V532.3M590.42 303.8V532.3M602.87 303.8V532.3M615.31 303.8V532.3M627.75 303.8V532.3M640.2 303.8V532.3M652.64 303.8V532.3M665.09 303.8V532.3M677.54 303.8V532.3M391.3 494.22H678.8M391.3 456.13H678.8M391.3 418.05H678.8M391.3 379.97H678.8M391.3 341.88H678.8" stroke="#a2a2a2" stroke-width="1" stroke-dasharray="1.1 2.35" fill="none"/>
<path d="M391.3 532.3v-3.5M391.3 303.8v3.5M403.75 532.3v-3.5M403.75 303.8v3.5M416.19 532.3v-3.5M416.19 303.8v3.5M428.63 532.3v-3.5M428.63 303.8v3.5M441.08 532.3v-3.5M441.08 303.8v3.5M453.53 532.3v-3.5M453.53 303.8v3.5M465.97 532.3v-3.5M465.97 303.8v3.5M478.42 532.3v-3.5M478.42 303.8v3.5M490.86 532.3v-3.5M490.86 303.8v3.5M503.31 532.3v-3.5M503.31 303.8v3.5M515.75 532.3v-3.5M515.75 303.8v3.5M528.2 532.3v-3.5M528.2 303.8v3.5M540.64 532.3v-3.5M540.64 303.8v3.5M553.09 532.3v-3.5M553.09 303.8v3.5M565.53 532.3v-3.5M565.53 303.8v3.5M577.98 532.3v-3.5M577.98 303.8v3.5M590.42 532.3v-3.5M590.42 303.8v3.5M602.87 532.3v-3.5M602.87 303.8v3.5M615.31 532.3v-3.5M615.31 303.8v3.5M627.75 532.3v-3.5M627.75 303.8v3.5M640.2 532.3v-3.5M640.2 303.8v3.5M652.64 532.3v-3.5M652.64 303.8v3.5M665.09 532.3v-3.5M665.09 303.8v3.5M677.54 532.3v-3.5M677.54 303.8v3.5M391.3 532.3h3.5M678.8 532.3h-3.5M391.3 494.22h3.5M678.8 494.22h-3.5M391.3 456.13h3.5M678.8 456.13h-3.5M391.3 418.05h3.5M678.8 418.05h-3.5M391.3 379.97h3.5M678.8 379.97h-3.5M391.3 341.88h3.5M678.8 341.88h-3.5M391.3 303.8h3.5M678.8 303.8h-3.5" stroke="#707070" stroke-width="1" fill="none"/>
<g clip-path="url(#clipd)"><polyline points="391.3,508.8 403.75,512.8 416.19,516.5 428.63,520.5 441.08,520.5 453.53,516.5 465.97,510.5 478.42,496.6 490.86,476.9 503.31,446.9 515.75,406 528.2,364.6 540.64,329 553.09,307.2 565.53,302 577.98,317.5 590.42,355.7 602.87,405 615.31,449 627.75,468.9 640.2,480.5 652.64,489 665.09,497.1 677.54,506.8" stroke="#008000" stroke-width="2.1" fill="none" stroke-linejoin="round"/><polyline points="391.3,506.2 403.75,511.6 416.19,515.7 428.63,515.9 441.08,512.8 453.53,508.8 465.97,507.7 478.42,505.9 490.86,500 503.31,487.3 515.75,465 528.2,436.5 540.64,400.5 553.09,382 565.53,348.7 577.98,338 590.42,340.3 602.87,356.4 615.31,382.8 627.75,405.3 640.2,434.7 652.64,452 665.09,476.3 677.54,499.4" stroke="#ff0000" stroke-width="2.1" fill="none" stroke-linejoin="round"/><polyline points="391.3,503.2 403.75,507 416.19,513.4 428.63,513.4 441.08,510.3 453.53,507.2 465.97,507.3 478.42,502.5 490.86,492.7 503.31,484 515.75,462.9 528.2,435.5 540.64,399 553.09,382 565.53,354.7 577.98,346 590.42,343 602.87,365.2 615.31,378.9 627.75,405.3 640.2,433.2 652.64,448.6 665.09,471.7 677.54,495.3" stroke="#ffa500" stroke-width="2.1" fill="none" stroke-linejoin="round"/><polyline points="391.3,484.2 403.75,489.6 416.19,492.6 428.63,496.3 441.08,498.5 453.53,499.1 465.97,501.8 478.42,506.7 490.86,514.3 503.31,516.4 515.75,518 528.2,508 540.64,501.7 553.09,489.9 565.53,462.7 577.98,450.5 590.42,435.4 602.87,423 615.31,422.5 627.75,429 640.2,442.1 652.64,450.4 665.09,461.3 677.54,475.1" stroke="#0000ff" stroke-width="2.1" fill="none" stroke-linejoin="round"/></g>
<rect x="391.3" y="303.8" width="287.5" height="228.5" fill="none" stroke="#4c4c4c" stroke-width="1.7"/>
<g font-size="12.74"><text transform="translate(399.52 298.95) scale(0.977 1)">M</text><text transform="translate(409.92 298.95) scale(1.044 1)">e</text><text transform="translate(416.83 298.95) scale(1.040 1)">a</text><text transform="translate(424.69 298.95) scale(1.075 1)">n</text><text transform="translate(436.05 298.95) scale(1.077 1)">d</text><text transform="translate(443.75 298.95) scale(1.180 1)">i</text><text transform="translate(447.06 298.95) scale(1.075 1)">u</text><text transform="translate(454.89 298.95) scale(1.165 1)">r</text><text transform="translate(459.47 298.95) scale(1.075 1)">n</text><text transform="translate(466.6 298.95) scale(1.040 1)">a</text><text transform="translate(474.43 298.95) scale(1.180 1)">l</text><text transform="translate(481.45 298.95) scale(1.038 1)">c</text><text transform="translate(488.21 298.95) scale(1.117 1)">y</text><text transform="translate(495.18 298.95) scale(1.038 1)">c</text><text transform="translate(501.94 298.95) scale(1.180 1)">l</text><text transform="translate(505.31 298.95) scale(1.044 1)">e</text><text transform="translate(515.69 298.95) scale(0.600 1)">J</text><text transform="translate(519.24 298.95) scale(0.600 1)">J</text><text transform="translate(523.39 298.95) scale(0.968 1)">A</text><text transform="translate(531.49 298.95) scale(1.080 1)">,</text><text transform="translate(539.35 298.95) scale(0.983 1)">s</text><text transform="translate(545.48 298.95) scale(1.332 1)">t</text><text transform="translate(549.78 298.95) scale(1.040 1)">a</text><text transform="translate(557.56 298.95) scale(1.332 1)">t</text><text transform="translate(562.34 298.95) scale(1.180 1)">i</text><text transform="translate(565.67 298.95) scale(1.038 1)">o</text><text transform="translate(573.05 298.95) scale(1.075 1)">n</text><text transform="translate(580.74 298.95) scale(0.983 1)">s</text><text transform="translate(590.75 298.95) scale(1.075 1)">h</text><text transform="translate(598.37 298.95) scale(1.180 1)">i</text><text transform="translate(601.64 298.95) scale(1.077 1)">g</text><text transform="translate(609.34 298.95) scale(1.075 1)">h</text><text transform="translate(616.99 298.95) scale(1.044 1)">e</text><text transform="translate(624.54 298.95) scale(1.165 1)">r</text><text transform="translate(633.09 298.95) scale(1.080 1)">9</text><text transform="translate(640.78 298.95) scale(1.080 1)">0</text><text transform="translate(648.43 298.95) scale(1.080 1)">0</text><text transform="translate(659.94 298.95) scale(1.104 1)">m</text></g>
<g font-size="10.38"><text transform="translate(366.23 535.4) scale(1.080 1)">0</text><text transform="translate(372.46 535.4) scale(1.080 1)">.</text><text transform="translate(375.51 535.4) scale(1.080 1)">1</text><text transform="translate(381.81 535.4) scale(1.080 1)">0</text></g>
<g font-size="10.38"><text transform="translate(366.43 497.32) scale(1.080 1)">0</text><text transform="translate(372.67 497.32) scale(1.080 1)">.</text><text transform="translate(375.72 497.32) scale(1.080 1)">1</text><text transform="translate(381.98 497.32) scale(1.080 1)">5</text></g>
<g font-size="10.38"><text transform="translate(366.23 459.23) scale(1.080 1)">0</text><text transform="translate(372.46 459.23) scale(1.080 1)">.</text><text transform="translate(375.45 459.23) scale(1.080 1)">2</text><text transform="translate(381.81 459.23) scale(1.080 1)">0</text></g>
<g font-size="10.38"><text transform="translate(366.43 421.15) scale(1.080 1)">0</text><text transform="translate(372.67 421.15) scale(1.080 1)">.</text><text transform="translate(375.65 421.15) scale(1.080 1)">2</text><text transform="translate(381.98 421.15) scale(1.080 1)">5</text></g>
<g font-size="10.38"><text transform="translate(366.23 383.07) scale(1.080 1)">0</text><text transform="translate(372.46 383.07) scale(1.080 1)">.</text><text transform="translate(375.59 383.07) scale(1.080 1)">3</text><text transform="translate(381.81 383.07) scale(1.080 1)">0</text></g>
<g font-size="10.38"><text transform="translate(366.43 344.98) scale(1.080 1)">0</text><text transform="translate(372.67 344.98) scale(1.080 1)">.</text><text transform="translate(375.8 344.98) scale(1.080 1)">3</text><text transform="translate(381.98 344.98) scale(1.080 1)">5</text></g>
<g font-size="10.38"><text transform="translate(366.23 306.9) scale(1.080 1)">0</text><text transform="translate(372.46 306.9) scale(1.080 1)">.</text><text transform="translate(375.58 306.9) scale(1.080 1)">4</text><text transform="translate(381.81 306.9) scale(1.080 1)">0</text></g>
<g font-size="10.38"><text transform="translate(388.18 544) scale(1.080 1)">0</text></g>
<g font-size="10.38"><text transform="translate(400.47 544) scale(1.080 1)">1</text></g>
<g font-size="10.38"><text transform="translate(413.07 544) scale(1.080 1)">2</text></g>
<g font-size="10.38"><text transform="translate(425.55 544) scale(1.080 1)">3</text></g>
<g font-size="10.38"><text transform="translate(438 544) scale(1.080 1)">4</text></g>
<g font-size="10.38"><text transform="translate(450.42 544) scale(1.080 1)">5</text></g>
<g font-size="10.38"><text transform="translate(462.81 544) scale(1.080 1)">6</text></g>
<g font-size="10.38"><text transform="translate(475.29 544) scale(1.080 1)">7</text></g>
<g font-size="10.38"><text transform="translate(487.74 544) scale(1.080 1)">8</text></g>
<g font-size="10.38"><text transform="translate(500.19 544) scale(1.080 1)">9</text></g>
<g font-size="10.38"><text transform="translate(509.23 544) scale(1.080 1)">1</text><text transform="translate(515.53 544) scale(1.080 1)">0</text></g>
<g font-size="10.38"><text transform="translate(521.81 544) scale(1.080 1)">1</text><text transform="translate(528.04 544) scale(1.080 1)">1</text></g>
<g font-size="10.38"><text transform="translate(534.29 544) scale(1.080 1)">1</text><text transform="translate(540.46 544) scale(1.080 1)">2</text></g>
<g font-size="10.38"><text transform="translate(546.64 544) scale(1.080 1)">1</text><text transform="translate(552.95 544) scale(1.080 1)">3</text></g>
<g font-size="10.38"><text transform="translate(558.96 544) scale(1.080 1)">1</text><text transform="translate(565.27 544) scale(1.080 1)">4</text></g>
<g font-size="10.38"><text transform="translate(571.56 544) scale(1.080 1)">1</text><text transform="translate(577.83 544) scale(1.080 1)">5</text></g>
<g font-size="10.38"><text transform="translate(583.89 544) scale(1.080 1)">1</text><text transform="translate(590.19 544) scale(1.080 1)">6</text></g>
<g font-size="10.38"><text transform="translate(596.44 544) scale(1.080 1)">1</text><text transform="translate(602.72 544) scale(1.080 1)">7</text></g>
<g font-size="10.38"><text transform="translate(608.8 544) scale(1.080 1)">1</text><text transform="translate(615.1 544) scale(1.080 1)">8</text></g>
<g font-size="10.38"><text transform="translate(621.26 544) scale(1.080 1)">1</text><text transform="translate(627.53 544) scale(1.080 1)">9</text></g>
<g font-size="10.38"><text transform="translate(633.8 544) scale(1.080 1)">2</text><text transform="translate(640.16 544) scale(1.080 1)">0</text></g>
<g font-size="10.38"><text transform="translate(646.37 544) scale(1.080 1)">2</text><text transform="translate(652.67 544) scale(1.080 1)">1</text></g>
<g font-size="10.38"><text transform="translate(658.85 544) scale(1.080 1)">2</text><text transform="translate(665.09 544) scale(1.080 1)">2</text></g>
<g font-size="10.38"><text transform="translate(671.2 544) scale(1.080 1)">2</text><text transform="translate(677.58 544) scale(1.080 1)">3</text></g>
<g font-size="12.34"><text transform="translate(500.7 558.6) scale(0.983 1)">H</text><text transform="translate(509.47 558.6) scale(1.038 1)">o</text><text transform="translate(516.56 558.6) scale(1.075 1)">u</text><text transform="translate(524.14 558.6) scale(1.165 1)">r</text><text transform="translate(532.46 558.6) scale(1.038 1)">o</text><text transform="translate(539.71 558.6) scale(1.196 1)">f</text><text transform="translate(547.32 558.6) scale(1.077 1)">d</text><text transform="translate(554.32 558.6) scale(1.040 1)">a</text><text transform="translate(561.9 558.6) scale(1.117 1)">y</text></g>
<g transform="translate(360.15 417.7) rotate(-90)"><g font-size="12.38"><text transform="translate(-59.83 0) scale(0.853 1)">P</text><text transform="translate(-53.04 0) scale(1.165 1)">r</text><text transform="translate(-48.64 0) scale(1.044 1)">e</text><text transform="translate(-41.62 0) scale(1.038 1)">c</text><text transform="translate(-35.04 0) scale(1.180 1)">i</text><text transform="translate(-31.74 0) scale(1.077 1)">p</text><text transform="translate(-24.38 0) scale(1.180 1)">i</text><text transform="translate(-21.19 0) scale(1.332 1)">t</text><text transform="translate(-17.02 0) scale(1.040 1)">a</text><text transform="translate(-9.45 0) scale(1.332 1)">t</text><text transform="translate(-4.82 0) scale(1.180 1)">i</text><text transform="translate(-1.57 0) scale(1.038 1)">o</text><text transform="translate(5.59 0) scale(1.075 1)">n</text><text transform="translate(16.1 0) scale(1.325 1)">[</text><text transform="translate(21.28 0) scale(1.104 1)">m</text><text transform="translate(32.66 0) scale(1.104 1)">m</text><text transform="translate(44.01 0) scale(1.144 1)">/</text><text transform="translate(47.95 0) scale(1.075 1)">h</text><text transform="translate(55.93 0) scale(1.325 1)">]</text></g></g>
<text x="668.6" y="323.4" font-size="17.5" font-weight="bold" text-anchor="end" fill="#000" style="stroke-width:0.1px">(d)</text>
<rect x="51.9" y="23.8" width="97.9" height="75.3" fill="#fff" stroke="#505050" stroke-width="1.7"/>
<path d="M59.4 33.5H77.8" stroke="#008000" stroke-width="2.1"/>
<g font-size="12.66"><text transform="translate(90.2 37.9) scale(0.989 1)">W</text><text transform="translate(102.23 37.9) scale(0.908 1)">R</text><text transform="translate(110.32 37.9) scale(0.889 1)">F</text><text transform="translate(117.11 37.9) scale(1.080 1)">1</text><text transform="translate(124.63 37.9) scale(1.080 1)">2</text></g>
<path d="M59.4 51.6H77.8" stroke="#ff0000" stroke-width="2.1"/>
<g font-size="12.57"><text transform="translate(90.2 55.8) scale(0.989 1)">W</text><text transform="translate(102.15 55.8) scale(0.908 1)">R</text><text transform="translate(110.19 55.8) scale(0.889 1)">F</text><text transform="translate(117.02 55.8) scale(1.080 1)">3</text><text transform="translate(124.58 55.8) scale(0.848 1)">_</text><text transform="translate(130.41 55.8) scale(1.080 1)">1</text><text transform="translate(137.88 55.8) scale(1.080 1)">2</text></g>
<path d="M59.4 69.8H77.8" stroke="#ffa500" stroke-width="2.1"/>
<g font-size="12.65"><text transform="translate(90.2 73.7) scale(0.989 1)">W</text><text transform="translate(102.21 73.7) scale(0.908 1)">R</text><text transform="translate(110.3 73.7) scale(0.889 1)">F</text><text transform="translate(117.18 73.7) scale(1.080 1)">3</text></g>
<path d="M59.4 87.8H77.8" stroke="#0000ff" stroke-width="2.1"/>
<g font-size="12.53"><text transform="translate(90.14 91.6) scale(0.955 1)">O</text><text transform="translate(99.43 91.6) scale(0.971 1)">B</text><text transform="translate(107.41 91.6) scale(0.898 1)">S</text></g>
</svg>
</body></html>
